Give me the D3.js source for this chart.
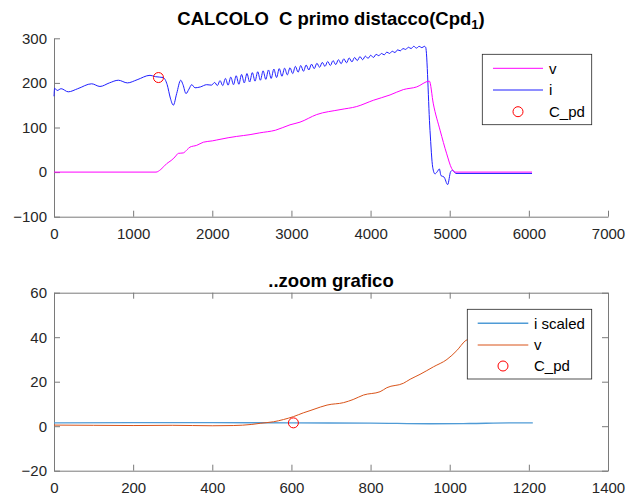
<!DOCTYPE html>
<html><head><meta charset="utf-8">
<script src="https://cdn.jsdelivr.net/npm/d3@7"></script>
<style>
body{margin:0;background:#fff}
svg{font-family:"Liberation Sans",Arial,sans-serif;display:block}
</style>
</head><body>
<svg id="c" width="629" height="497"></svg>
<script>
// ---------- top chart data ----------
const iX = [0,8,40,90,180,300,476,581,700,813,927,1050,1213,1280,1380,1430,1470,1508,1550,1601,1630,1668,1705,1740,1782,1850,1929,1990,
  2030,2064,2098,2132,2166,2200,2234,2268,2302,2336,2370,2404,2438,2472,2506,2540,2574,2608,2642,2676,2710,2744,2778,2812,2846,2880,2914,2948,2982,
  3016,3050,3084,3118,3152,3186,3220,3254,3288,3322,3356,3390,3424,3458,3492,3526,3560,3594,3628,3662,3696,3730,3764,3798,3832,3866,3900,3934,3968,
  4002,4036,4070,4104,4138,4172,4206,4240,4274,4308,4342,4376,4410,4444,4478,4512,4546,4580,4614,4648,4680,4696,
  4751,4785,4814,4843,4869,4890,4928,4974,5012,5037,5079,6040];
const iY = [170,188,183,187,180,187,198,192,200,206,200,207,217,214,212,196,166,150,176,206,196,176,186,196,189,191,196,195,
  201,194,205,194,210,195,213,196,216,197,219,200,221,202,223,204,225,206,227,208,229,210,231,212,232,215,233,218,234,
  221,237,224,239,226,240,229,242,232,244,235,246,237,248,239,250,241,252,243,254,245,256,247,257,250,259,252,260,255,
  262,257,264,261,266,263,269,266,271,268,274,272,277,275,280,277,282,278,282,279,282,280,
  93,11,-4,1,7,-8,-11,-28,1,4,-3,-3];
const vX = [0,1289,1350,1424,1480,1529,1571,1634,1680,1718,1803,1887,2000,2056,2200,2308,2477,2600,2800,2982,3108,3319,3614,3825,4035,4246,4414,4583,4743,4793,4878,4962,5025,5067,6040];
const vY = [0,0,6,19,26,34,42,43,50,56,60,67,70,72,77,80,84,88,94,106,112,129,140,147,161,173,185,191,204,153,94,41,8,0,0];
const cpdX = [1320];
const cpdY = [212];
const topXTicks = [0,1000,2000,3000,4000,5000,6000,7000];
const topYTicks = [-100,0,100,200,300];
const topLegend = ["v","i","C_pd"];

// ---------- zoom chart data ----------
const ziX = [0,200,400,600,800,950,1050,1150,1210];
const ziY = [1.5,1.6,1.6,1.5,1.4,1.1,1.2,1.5,1.5];
const zvX = [0,100,200,300,400,453,500,521,555,580,605,630,647,673,690,732,756,782,824,841,883,900,925,959,993,1018,1039,1060,1100,1150,1210];
const zvY = [0.5,0.4,0.3,0.4,0.2,0.3,0.8,1.3,2,3,4.3,6,7,8.6,9.5,10.6,12,14,15.5,17.3,19.3,21.1,23.3,26.7,30,34,38.3,40,44,47,50];
const zCpdX = [605];
const zCpdY = [1.5];
const botXTicks = [0,200,400,600,800,1000,1200,1400];
const botYTicks = [-20,0,20,40,60];
const botLegend = ["i scaled","v","C_pd"];

const svg = d3.select("#c");
const AX = "#7a7a7a", TXT = "#262626";

function styleAxis(g){
  g.selectAll("path.domain").attr("stroke",AX).attr("stroke-width",1);
  g.selectAll(".tick line").attr("stroke",AX).attr("stroke-width",1);
  g.selectAll(".tick text").attr("fill",TXT).style("font-size","15px").style("font-family","'Liberation Sans',Arial,sans-serif");
}

function panel(o){
  const x = d3.scaleLinear().domain(o.xd).range([o.l,o.r]);
  const y = d3.scaleLinear().domain(o.yd).range([o.b,o.t]);
  const g = svg.append("g");
  if(o.box){
    const gt = g.append("g").attr("transform",`translate(0,${o.t})`)
      .call(d3.axisTop(x).tickValues(o.xt).tickSize(-6).tickSizeOuter(0).tickFormat(""));
    styleAxis(gt);
    const gr = g.append("g").attr("transform",`translate(${o.r},0)`)
      .call(d3.axisRight(y).tickValues(o.yt).tickSize(-6).tickSizeOuter(0).tickFormat(""));
    styleAxis(gr);
  }
  const gx = g.append("g").attr("transform",`translate(0,${o.b})`)
    .call(d3.axisBottom(x).tickValues(o.xt).tickSize(-6).tickSizeOuter(0).tickPadding(12).tickFormat(d3.format("d")));
  styleAxis(gx);
  const gy = g.append("g").attr("transform",`translate(${o.l},0)`)
    .call(d3.axisLeft(y).tickValues(o.yt).tickSize(-6).tickSizeOuter(0).tickPadding(7).tickFormat(d3.format("d")));
  styleAxis(gy);
  const line = d3.line().x(d=>x(d[0])).y(d=>y(d[1])).curve(d3.curveMonotoneX);
  o.series.forEach(s=>{
    g.append("path").datum(d3.zip(s.x,s.y)).attr("d",line)
      .attr("fill","none").attr("stroke",s.c).attr("stroke-width",s.w||1).attr("stroke-linejoin","round");
  });
  g.append("g").selectAll("circle").data(d3.zip(o.cpd[0],o.cpd[1])).join("circle")
    .attr("cx",d=>x(d[0])).attr("cy",d=>y(d[1])).attr("r",5)
    .attr("fill","none").attr("stroke","#ff0000").attr("stroke-width",1);
  // legend
  const L = o.leg;
  const lg = svg.append("g");
  lg.append("rect").attr("x",L.x).attr("y",L.y).attr("width",L.w).attr("height",L.h)
    .attr("fill","#fff").attr("stroke","#262626").attr("stroke-width",0.8);
  L.names.forEach((n,k)=>{
    const yy = L.rows[k];
    if(k<2){
      const s = o.series[L.order[k]];
      lg.append("line").attr("x1",L.l1).attr("x2",L.l2).attr("y1",yy).attr("y2",yy)
        .attr("stroke",s.c).attr("stroke-width",s.w||1);
    } else {
      lg.append("circle").attr("cx",(L.l1+L.l2)/2).attr("cy",yy).attr("r",5)
        .attr("fill","none").attr("stroke","#ff0000").attr("stroke-width",1);
    }
    lg.append("text").attr("x",L.tx).attr("y",yy).attr("dy","0.35em")
      .attr("fill","#000").style("font-size","15px").text(n);
  });
  return {x,y};
}

// top panel
panel({l:54,r:608,t:38.3,b:216.7,xd:[0,7000],yd:[-100,300],xt:topXTicks,yt:topYTicks,box:false,
  series:[{x:iX,y:iY,c:"#1f1fff"},{x:vX,y:vY,c:"#ff00ff"}],
  cpd:[cpdX,cpdY],
  leg:{x:482.3,y:54.3,w:109.4,h:70.4,rows:[68.3,90,111.7],l1:493,l2:543,tx:549,names:topLegend,order:[1,0]}});

// top title
const t1 = svg.append("text").attr("x",331).attr("y",25).attr("text-anchor","middle")
  .attr("fill","#000").style("font-size","18.5px").style("font-weight","bold").style("white-space","pre");
t1.append("tspan").text("CALCOLO  C primo distacco(Cpd");
t1.append("tspan").attr("dy","4").style("font-size","13px").text("1");
t1.append("tspan").attr("dy","-4").text(")");

// bottom panel
panel({l:54,r:608,t:292.7,b:470.7,xd:[0,1400],yd:[-20,60],xt:botXTicks,yt:botYTicks,box:true,
  series:[{x:ziX,y:ziY,c:"#4f9bd6",w:1.4},{x:zvX,y:zvY,c:"#d95319"}],
  cpd:[zCpdX,zCpdY],
  leg:{x:467.3,y:309.3,w:124.4,h:69.7,rows:[323.3,345,366],l1:477.7,l2:528.3,tx:534,names:botLegend,order:[0,1]}});

svg.append("text").attr("x",331).attr("y",287).attr("text-anchor","middle")
  .attr("fill","#000").style("font-size","18.5px").style("font-weight","bold").text("..zoom grafico");
</script>
</body></html>
